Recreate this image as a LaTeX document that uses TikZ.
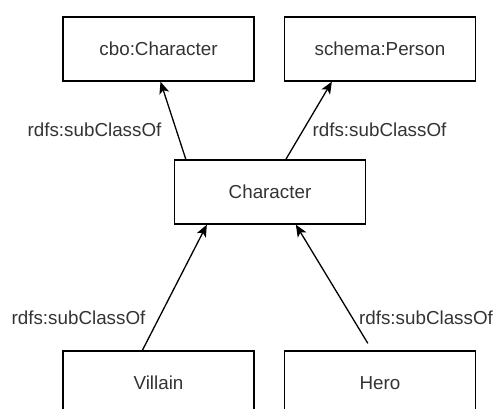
\documentclass[tikz,border=0pt]{standalone}
\usepackage{fontspec}
\setmainfont{Liberation Sans}
\usetikzlibrary{arrows.meta,calc}
\definecolor{txt}{HTML}{333333}
\tikzset{
  cls/.style={draw=black, line width=1.3bp, minimum width=191bp, minimum height=64bp, inner sep=0pt, text=txt, font=\fontsize{18.8bp}{22bp}\selectfont},
  rel/.style={draw=black, line width=1.3bp, -{Stealth[length=12bp,width=10bp,inset=3bp]}},
  lbl/.style={text=txt, font=\fontsize{18.8bp}{22bp}\selectfont, inner sep=0pt}
}
\begin{document}
\begin{tikzpicture}[x=1bp,y=-1bp]
\useasboundingbox (0,0) rectangle (497,408);
\clip (0,0) rectangle (497,408);
\node[cls] (cbo) at (158.5,49) {cbo:Character};
\node[cls] (schema) at (380,49) {schema:Person};
\node[cls] (char) at (270,192) {Character};
\node[cls] (villain) at (158.5,383) {Villain};
\node[cls] (hero) at (380,383) {Hero};
\coordinate (heroend) at ($(hero.north west)+(84,-7)$);
\draw[rel] ($(char.north west)+(12,0)$) -- ($(cbo.south)+(2,0)$);
\draw[rel] ($(char.north west)+(112,0)$) -- ($(schema.south west)+(48,0)$);
\draw[rel] ($(villain.north west)+(80,0)$) -- ($(char.south west)+(33,0)$);
\draw[rel] (heroend) -- ($(char.south west)+(122,0)$);
\node[lbl] (l1) at (94.5,130) {rdfs:subClassOf};
\node[lbl] (l2) at (379.5,130) {rdfs:subClassOf};
\node[lbl] (l3) at (78.5,318) {rdfs:subClassOf};
\node[lbl] (l4) at (426,318) {rdfs:subClassOf};
\end{tikzpicture}
\end{document}
